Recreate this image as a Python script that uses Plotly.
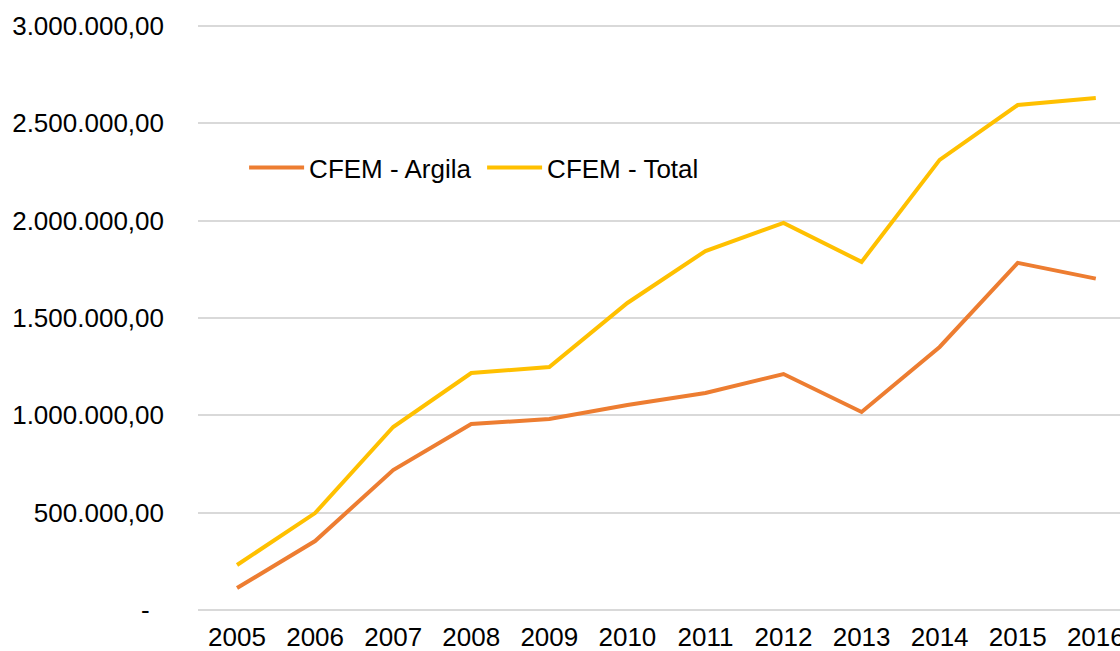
import plotly.graph_objects as go

# Dados
anos = ["2005", "2006", "2007", "2008", "2009", "2010",
        "2011", "2012", "2013", "2014", "2015", "2016"]
cfem_argila = [113000, 354000, 719000, 955000, 981000, 1053000,
               1115000, 1212000, 1017000, 1351000, 1783000, 1702000]
cfem_total = [231000, 498000, 940000, 1217000, 1248000, 1577000,
              1844000, 1988000, 1788000, 2312000, 2594000, 2630000]

y_ticks = [0, 500000, 1000000, 1500000, 2000000, 2500000, 3000000]
y_labels = ["-\u00a0\u00a0", "500.000,00", "1.000.000,00", "1.500.000,00",
            "2.000.000,00", "2.500.000,00", "3.000.000,00"]

fig = go.Figure()
fig.add_trace(go.Scatter(x=anos, y=cfem_argila, name="CFEM - Argila", mode="lines",
                         line=dict(color="#ED7D31", width=4)))
fig.add_trace(go.Scatter(x=anos, y=cfem_total, name="CFEM - Total", mode="lines",
                         line=dict(color="#FFC000", width=4)))

fig.update_layout(
    width=1120, height=651,
    margin=dict(l=198, r=0, t=24, b=41),
    paper_bgcolor="white", plot_bgcolor="white",
    font=dict(family="Liberation Sans, Arial", size=26, color="#000000"),
    showlegend=True,
    legend=dict(orientation="h", x=0.05, y=0.755, xanchor="left", yanchor="middle",
                itemwidth=55, entrywidth=168, entrywidthmode="pixels",
                tracegroupgap=0, bgcolor="rgba(0,0,0,0)",
                font=dict(size=26)),
    xaxis=dict(type="category", range=[-0.5, 11.31], showgrid=False,
               showline=False, zeroline=False, ticks="", ticklabelstandoff=9,
               automargin=False, fixedrange=True),
    yaxis=dict(range=[0, 3010000], tickvals=y_ticks, ticktext=y_labels,
               showgrid=True, gridcolor="#D9D9D9", gridwidth=1.5,
               zeroline=True, zerolinecolor="#D9D9D9", zerolinewidth=1.5,
               showline=False, ticks="", ticklabelstandoff=33,
               automargin=False, fixedrange=True),
)

# remove a margem padrão do <body> para alinhar com a imagem
fig.write_html("out.html", config={"displayModeBar": False},
               post_script="document.body.style.margin='0';")
